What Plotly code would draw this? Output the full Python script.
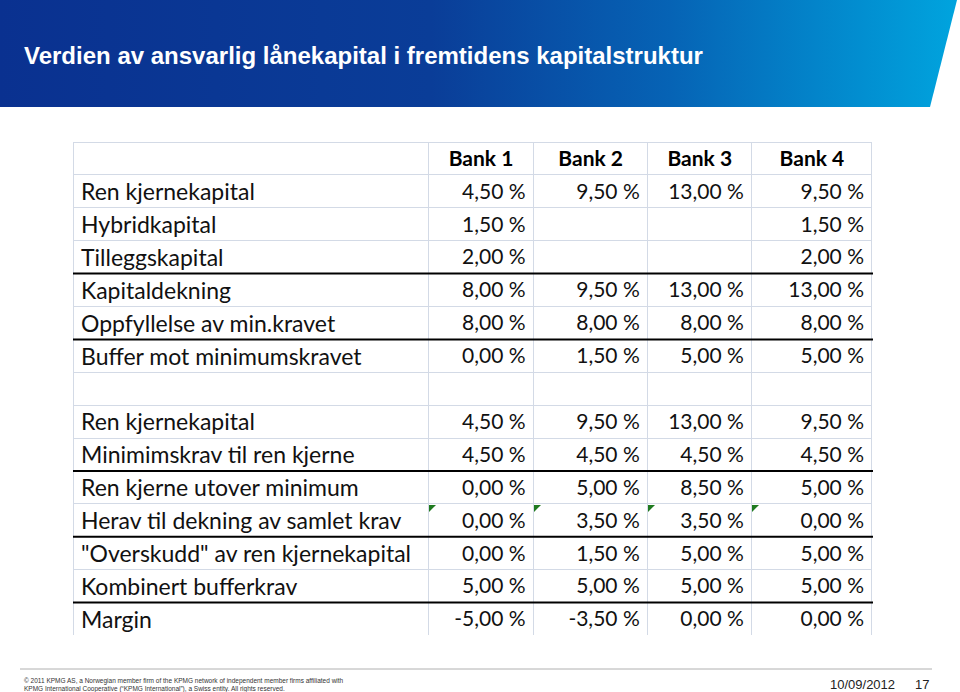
import plotly.graph_objects as go

W, H = 960, 692

title = "Verdien av ansvarlig lånekapital i fremtidens kapitalstruktur"
banks = ["Bank 1", "Bank 2", "Bank 3", "Bank 4"]
row_labels = [
    "Ren kjernekapital", "Hybridkapital", "Tilleggskapital", "Kapitaldekning",
    "Oppfyllelse av min.kravet", "Buffer mot minimumskravet", "",
    "Ren kjernekapital", "Minimimskrav til ren kjerne", "Ren kjerne utover minimum",
    "Herav til dekning av samlet krav", "\"Overskudd\" av ren kjernekapital",
    "Kombinert bufferkrav", "Margin",
]
bank1 = [4.5, 1.5, 2.0, 8.0, 8.0, 0.0, None, 4.5, 4.5, 0.0, 0.0, 0.0, 5.0, -5.0]
bank2 = [9.5, None, None, 9.5, 8.0, 1.5, None, 9.5, 4.5, 5.0, 3.5, 1.5, 5.0, -3.5]
bank3 = [13.0, None, None, 13.0, 8.0, 5.0, None, 13.0, 4.5, 8.5, 3.5, 5.0, 5.0, 0.0]
bank4 = [9.5, 1.5, 2.0, 13.0, 8.0, 5.0, None, 9.5, 4.5, 5.0, 0.0, 5.0, 5.0, 0.0]
# rows after which a thick black rule is drawn (index of row in body)
rule_after = [2, 4, 8, 10, 12]
flag_row = 10  # row with green error-indicator triangles

footer1 = "© 2011 KPMG AS, a Norwegian member firm of the KPMG network of independent member firms affiliated with"
footer2 = "KPMG International Cooperative (“KPMG International”), a Swiss entity. All rights reserved."
date_txt = "10/09/2012"
page_no = "17"


def fmt(v):
    if v is None:
        return ""
    return f"{v:.2f}".replace(".", ",") + " %"


# geometry (pixels)
tx0, tx1 = 73, 872
ty0, row_h = 142, 32.9
col_w = [355, 105, 114, 104, 120]
n_rows = len(row_labels)
ty1 = ty0 + row_h * (n_rows + 1)

grid = "#d3dae6"
font_t = "Lato, 'Open Sans', sans-serif"

fig = go.Figure()

# header band with gradient
fig.add_trace(go.Scatter(
    x=[0, 957, 930, 0, 0], y=[0, 0, 107, 107, 0],
    fill="toself", mode="lines", line=dict(width=0),
    fillgradient=dict(type="horizontal",
                      colorscale=[[0, "#0a3190"], [0.45, "#0a3d98"], [0.7, "#0663b5"], [1, "#00a4de"]]),
    hoverinfo="skip", showlegend=False,
))

fig.add_trace(go.Table(
    domain=dict(x=[tx0 / W, tx1 / W], y=[1 - ty1 / H, 1 - ty0 / H]),
    columnwidth=col_w,
    header=dict(
        values=[""] + banks,
        align=["left", "center", "center", "center", "center"],
        height=row_h,
        font=dict(family=font_t, size=21, color="black", weight="bold"),
        fill_color="white",
        line=dict(color=grid, width=1),
    ),
    cells=dict(
        values=[row_labels, [fmt(v) for v in bank1], [fmt(v) for v in bank2],
                [fmt(v) for v in bank3], [fmt(v) for v in bank4]],
        align=["left", "right", "right", "right", "right"],
        height=row_h,
        font=dict(family=font_t, size=[23, 21, 21, 21, 21], color="#111111"),
        fill_color="white",
        line=dict(color=grid, width=1),
    ),
))

shapes = []
for r in rule_after:
    y = ty0 + row_h * (r + 2)
    shapes.append(dict(type="line", xref="paper", yref="paper",
                       x0=tx0 / W, x1=(tx1 + 1) / W, y0=1 - y / H, y1=1 - y / H,
                       line=dict(color="black", width=2)))
# green triangles
yf = ty0 + row_h * (flag_row + 1)
xc = tx0
for i in range(4):
    xc += col_w[i]
    x = xc + 1
    pts = [(x, yf + 1), (x + 7, yf + 1), (x, yf + 8)]
    path = "M " + " L ".join(f"{px / W},{1 - py / H}" for px, py in pts) + " Z"
    shapes.append(dict(type="path", xref="paper", yref="paper", path=path,
                       fillcolor="#1f7a1f", line=dict(width=0)))
# footer rule
shapes.append(dict(type="line", xref="paper", yref="paper",
                   x0=20 / W, x1=932 / W, y0=1 - 669 / H, y1=1 - 669 / H,
                   line=dict(color="#b0b0b0", width=1)))

annotations = [
    dict(text=title, x=22 / W, y=1 - 55 / H, xref="paper", yref="paper",
         xanchor="left", yanchor="middle", showarrow=False,
         font=dict(family="Liberation Sans, Arial", size=24, color="white", weight="bold")),
    dict(text=footer1, x=22 / W, y=1 - 681 / H, xref="paper", yref="paper",
         xanchor="left", yanchor="middle", showarrow=False,
         font=dict(family="Liberation Sans, Arial", size=6.5, color="#333333")),
    dict(text=footer2, x=22 / W, y=1 - 689 / H, xref="paper", yref="paper",
         xanchor="left", yanchor="middle", showarrow=False,
         font=dict(family="Liberation Sans, Arial", size=6.5, color="#333333")),
    dict(text=date_txt, x=897 / W, y=1 - 684 / H, xref="paper", yref="paper",
         xanchor="right", yanchor="middle", showarrow=False,
         font=dict(family="Liberation Sans, Arial", size=13, color="#222222")),
    dict(text=page_no, x=931 / W, y=1 - 684 / H, xref="paper", yref="paper",
         xanchor="right", yanchor="middle", showarrow=False,
         font=dict(family="Liberation Sans, Arial", size=13, color="#222222")),
]

fig.update_layout(
    width=W, height=H, margin=dict(l=0, r=0, t=0, b=0),
    paper_bgcolor="white", plot_bgcolor="white",
    xaxis=dict(range=[0, W], visible=False, domain=[0, 1], fixedrange=True),
    yaxis=dict(range=[H, 0], visible=False, domain=[0, 1], fixedrange=True),
    shapes=shapes, annotations=annotations, showlegend=False,
)

fig.write_html("out.html", config={"displayModeBar": False},
               post_script="document.body.style.margin='0';document.body.style.overflow='hidden';")
